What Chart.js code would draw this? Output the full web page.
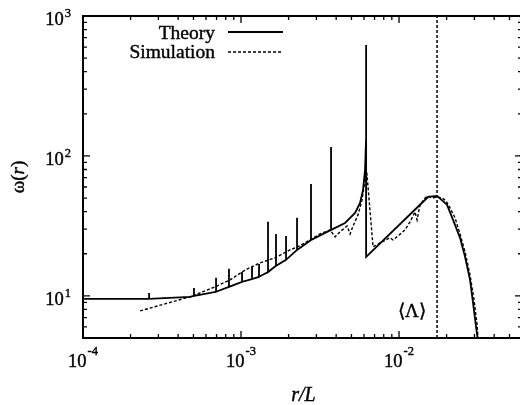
<!DOCTYPE html>
<html>
<head>
<meta charset="utf-8">
<script src="https://cdn.jsdelivr.net/npm/chart.js@4"></script>
<style>
  body { margin: 0; background: #fff; overflow: hidden; }
  #wrap { width: 524px; height: 405px; }
</style>
</head>
<body>
<div id="wrap"><canvas id="omegaChart"></canvas></div>
<script>
// theory curve (r/L, omega); the big resonance at ~6.2e-3 is written in directly
const theoryR = [1e-4, 2.62e-4, 4.76e-4, 5.04e-4, 6.95e-4, 8.39e-4, 1.015e-3, 1.174e-3, 1.30e-3,
  1.482e-3, 1.665e-3, 1.927e-3, 2.262e-3, 2.773e-3, 3.713e-3, 4.551e-3, 5.267e-3, 5.665e-3,
  5.919e-3, 6.093e-3, 6.182e-3, 6.19e-3, 6.19e-3, 1.526e-2, 1.739e-2, 2.013e-2, 2.197e-2,
  2.432e-2, 2.617e-2, 2.814e-2, 2.94e-2, 3.071e-2, 3.14e-2];
const theoryW = [9.52, 9.52, 9.84, 10.0, 10.7, 11.6, 12.6, 13.2, 13.7,
  14.8, 16.4, 18.1, 21.3, 25.1, 29.6, 33.2, 39.2, 46.2,
  57.2, 79.4, 130, 620, 19.0, 50.9, 51.8, 44.7, 34.9,
  26.0, 19.0, 13.0, 8.9, 6.0, 5.0];

// smaller resonance spikes on the theory curve
const spikeR = [2.62e-4, 5.04e-4, 6.95e-4, 8.39e-4, 1.015e-3, 1.174e-3, 1.30e-3,
  1.482e-3, 1.665e-3, 1.927e-3, 2.262e-3, 2.773e-3, 3.713e-3];
const spikeTop = [10.5, 11.4, 13.5, 15.6, 14.8, 16.1, 16.9, 33.8, 27.7, 26.8, 36.1, 63.1, 116];

// simulation
const simR = [2.30e-4, 3.30e-4, 4.76e-4, 6.85e-4, 8.52e-4, 1.06e-3, 1.32e-3, 1.64e-3, 2.04e-3,
  2.36e-3, 2.73e-3, 3.16e-3, 3.66e-3, 3.94e-3, 4.23e-3, 4.69e-3, 4.90e-3, 5.12e-3, 5.50e-3,
  5.83e-3, 6.09e-3, 6.27e-3, 6.85e-3, 7.58e-3, 8.77e-3, 9.16e-3, 9.86e-3, 1.091e-2, 1.174e-2,
  1.262e-2, 1.30e-2, 1.358e-2, 1.461e-2, 1.526e-2, 1.618e-2, 1.739e-2, 1.872e-2, 1.984e-2,
  2.103e-2, 2.262e-2, 2.432e-2, 2.617e-2, 2.814e-2, 2.983e-2, 3.117e-2, 3.162e-2];
const simW = [7.81, 8.77, 9.84, 11.6, 13.0, 15.3, 17.2, 18.7, 21.3,
  22.8, 25.1, 27.7, 29.6, 26.4, 28.7, 31.6, 27.7, 31.6, 37.9,
  48.5, 67.4, 73.1, 22.4, 23.9, 26.0, 25.1, 26.8, 29.6, 33.8,
  39.8, 34.9, 44.7, 50.1, 51.8, 50.1, 50.9, 50.1, 47.7,
  42.5, 36.1, 27.7, 20.6, 14.1, 9.36, 6.21, 5.0];

const lambdaMean = 0.0174;
const xRange = [1e-4, 0.06];
const yRange = [5, 1000];
const xDecades = [-4, -3, -2];
const yDecades = [1, 2, 3];

const serif = '"Liberation Serif", "Times New Roman", serif';

function theoryPoints() {
  const pts = [];
  theoryR.forEach((r, i) => {
    pts.push({x: r, y: theoryW[i]});
    const k = spikeR.indexOf(r);
    if (k >= 0) pts.push({x: r, y: spikeTop[k]}, {x: r, y: theoryW[i]});
  });
  return pts;
}

// text is drawn with a thin stroke on top so it looks as heavy as the scan
function ink(ctx, text, x, y) {
  ctx.fillText(text, x, y);
  ctx.strokeText(text, x, y);
}

function drawPow(ctx, exp, x, yBase, ySup, align) {
  ctx.font = '18.5px ' + serif;
  const w1 = ctx.measureText('10').width;
  ctx.font = '12.5px ' + serif;
  const w2 = ctx.measureText(exp).width;
  let left = align === 'right' ? x - w1 - w2 - 1 : x - (w1 + w2 + 1) / 2;
  ctx.textAlign = 'left';
  ctx.font = '18.5px ' + serif;
  ink(ctx, '10', left, yBase);
  ctx.font = '12.5px ' + serif;
  ink(ctx, exp, left + w1 + 1, ySup);
}

const axisDeco = {
  id: 'axisDeco',
  afterDatasetsDraw(chart) {
    const {ctx, chartArea: a, scales: {x, y}} = chart;
    ctx.save();
    ctx.strokeStyle = '#000';
    ctx.fillStyle = '#000';
    ctx.setLineDash([]);
    ctx.lineWidth = 2;
    ctx.strokeRect(a.left, a.top, a.right - a.left, a.bottom - a.top);

    ctx.lineWidth = 1.3;
    ctx.beginPath();
    xDecades.forEach(d => {
      for (let m = 1; m <= 9; m++) {
        const v = m * Math.pow(10, d);
        if (v < xRange[0] || v > xRange[1]) continue;
        const px = x.getPixelForValue(v);
        const len = m === 1 ? 7 : 4;
        ctx.moveTo(px, a.bottom); ctx.lineTo(px, a.bottom - len);
        ctx.moveTo(px, a.top); ctx.lineTo(px, a.top + len);
      }
    });
    [0, 1, 2, 3].forEach(d => {
      for (let m = 1; m <= 9; m++) {
        const v = m * Math.pow(10, d);
        if (v < yRange[0] || v > yRange[1]) continue;
        const py = y.getPixelForValue(v);
        const len = m === 1 ? 7 : 4;
        ctx.moveTo(a.left, py); ctx.lineTo(a.left + len, py);
        ctx.moveTo(a.right, py); ctx.lineTo(a.right - len, py);
      }
    });
    ctx.stroke();

    // tick labels
    ctx.lineWidth = 0.4;
    ctx.textBaseline = 'alphabetic';
    xDecades.forEach(d => {
      const px = x.getPixelForValue(Math.pow(10, d));
      drawPow(ctx, String(d), px, a.bottom + 29, a.bottom + 17, 'center');
    });
    yDecades.forEach(d => {
      const py = y.getPixelForValue(Math.pow(10, d));
      drawPow(ctx, String(d), a.left - 12, py + 9, py + 1, 'right');
    });

    // axis titles
    ctx.font = 'italic 20px ' + serif;
    ctx.textAlign = 'center';
    ink(ctx, 'r/L', (a.left + a.right) / 2 + 1, 401);

    ctx.save();
    ctx.translate(24, (a.top + a.bottom) / 2);
    ctx.rotate(-Math.PI / 2);
    const parts = [['ω(', '19px '], ['r', 'italic 19px '], [')', '19px ']];
    let total = 0;
    parts.forEach(p => { ctx.font = p[1] + serif; total += ctx.measureText(p[0]).width; });
    let cx = -total / 2;
    ctx.textAlign = 'left';
    parts.forEach(p => {
      ctx.font = p[1] + serif;
      ink(ctx, p[0], cx, 0);
      cx += ctx.measureText(p[0]).width;
    });
    ctx.restore();

    // <Lambda> label
    ctx.font = '19px ' + serif;
    ctx.textAlign = 'center';
    ink(ctx, '⟨Λ⟩', 412, 317);

    // legend
    ctx.textAlign = 'right';
    ctx.font = '19.5px ' + serif;
    ink(ctx, 'Theory', 215, 39);
    ink(ctx, 'Simulation', 215, 58);
    ctx.lineWidth = 1.8;
    ctx.beginPath(); ctx.moveTo(228, 32); ctx.lineTo(283, 32); ctx.stroke();
    ctx.lineWidth = 1.4;
    ctx.setLineDash([3, 2]);
    ctx.beginPath(); ctx.moveTo(228, 52); ctx.lineTo(283, 52); ctx.stroke();
    ctx.restore();
  }
};

window.addEventListener('load', () => {
  new Chart(document.querySelector('#omegaChart'), {
    type: 'scatter',
    data: {
      datasets: [{
        label: 'Theory',
        data: theoryPoints(),
        showLine: true,
        borderColor: '#000',
        borderWidth: 1.8,
        pointRadius: 0
      }, {
        label: 'Simulation',
        data: simR.map((r, i) => ({x: r, y: simW[i]})),
        showLine: true,
        borderColor: '#000',
        borderWidth: 1.4,
        borderDash: [3, 2],
        pointRadius: 0
      }, {
        label: 'mean Lambda',
        data: [{x: lambdaMean, y: yRange[0]}, {x: lambdaMean, y: yRange[1]}],
        showLine: true,
        borderColor: '#000',
        borderWidth: 1.5,
        borderDash: [3, 2],
        pointRadius: 0
      }]
    },
    options: {
      responsive: true,
      maintainAspectRatio: false,
      animation: false,
      layout: {padding: {left: 83, top: 16, right: 2, bottom: 67}},
      plugins: {legend: {display: false}, tooltip: {enabled: false}},
      scales: {
        x: {type: 'logarithmic', min: xRange[0], max: xRange[1], display: false},
        y: {type: 'logarithmic', min: yRange[0], max: yRange[1], display: false}
      }
    },
    plugins: [axisDeco]
  });
});
</script>
</body>
</html>
